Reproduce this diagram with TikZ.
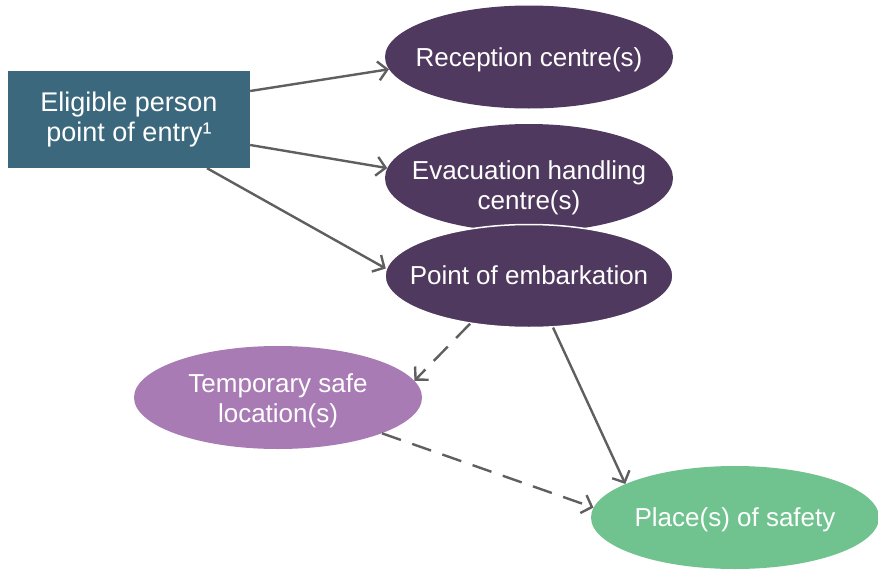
\documentclass[tikz,border=0pt]{standalone}
\usepackage{fontspec}
\setmainfont{Liberation Sans}
\usetikzlibrary{shapes.geometric,arrows.meta}
\definecolor{boxteal}{HTML}{3B687C}
\definecolor{darkpurple}{HTML}{50395F}
\definecolor{lightpurple}{HTML}{A97BB4}
\definecolor{safegreen}{HTML}{70C38F}
\definecolor{arrowgray}{HTML}{5F5F5F}
\begin{document}
\begin{tikzpicture}[x=1pt,y=-1pt,
  lbl/.style={text=white,align=center,font=\fontsize{26}{30}\selectfont,inner sep=0pt},
  oval/.style={ellipse,inner sep=0pt,minimum width=288pt,minimum height=103pt},
  conn/.style={draw=arrowgray,line width=2.4pt,-{Straight Barb[length=9pt,width=19pt,line width=2.4pt]}},
  dashconn/.style={conn,dash pattern=on 20pt off 12pt}]
\useasboundingbox (0,0) rectangle (878,570);
\node[lbl,font=\fontsize{27}{30}\selectfont,fill=boxteal,minimum width=242pt,minimum height=97pt] (box) at (129,119.5) {Eligible person\\point of entry¹};
\node[oval,fill=darkpurple] (rec) at (529,57) {};
\node[lbl] (rect) at ([yshift=-3pt]rec.center) {Reception centre(s)};
\node[oval,fill=darkpurple,minimum height=108pt] (evac) at (529,178) {};
\node[lbl] (evact) at ([yshift=-10pt]evac.center) {Evacuation handling\\centre(s)};
\node[oval,fill=darkpurple,draw=white,line width=1.5pt] (point) at (529,276) {};
\node[lbl] (pointt) at ([yshift=0.5pt]point.center) {Point of embarkation};
\node[oval,fill=lightpurple] (temp) at (278,397.5) {};
\node[lbl] (tempt) at ([yshift=-3pt]temp.center) {Temporary safe\\location(s)};
\node[oval,fill=safegreen] (safe) at (735,517.5) {};
\node[lbl] (safet) at ([yshift=-2pt]safe.center) {Place(s) of safety};
\draw[conn] ([yshift=28.5pt]box.east) -- (rec.185);
\draw[conn] ([yshift=-25.5pt]box.east) -- (evac.176);
\draw[conn] ([xshift=78pt]box.south) -- (point.177);
\draw[dashconn] (point.219.5) -- (temp.7.5);
\draw[conn] (point.-65) -- (safe.163);
\draw[dashconn] (temp.-19) -- (safe.176);
\end{tikzpicture}
\end{document}
